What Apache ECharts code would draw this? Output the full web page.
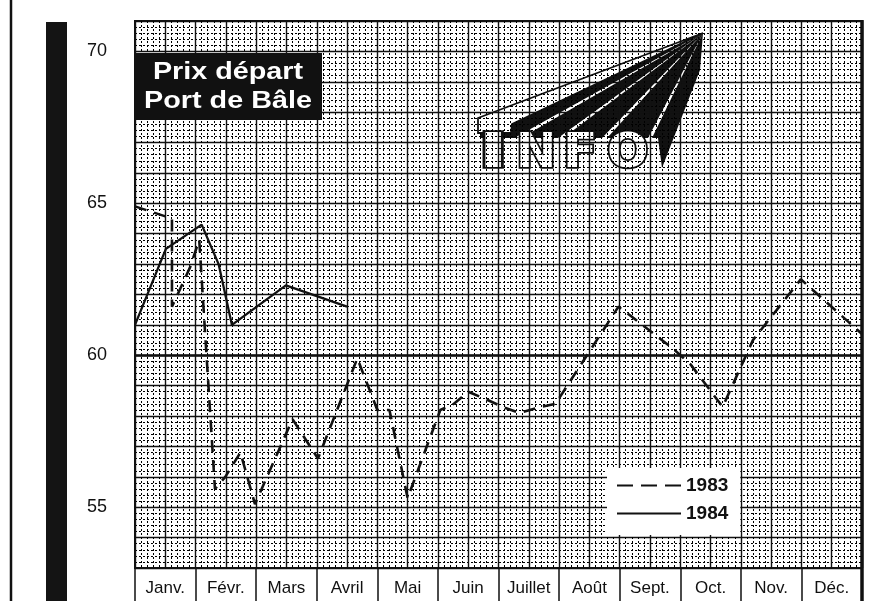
<!DOCTYPE html>
<html>
<head>
<meta charset="utf-8">
<script src="https://cdn.jsdelivr.net/npm/echarts@6/dist/echarts.min.js"></script>
<style>
  html, body { margin: 0; padding: 0; background: #fff; }
  #chart { width: 894px; height: 601px; }
</style>
</head>
<body>
<div id="chart"></div>
<script>
// mois (axe du bas)
const months = ['Janv.', 'Févr.', 'Mars', 'Avril', 'Mai', 'Juin', 'Juillet', 'Août', 'Sept.', 'Oct.', 'Nov.', 'Déc.'];
const yLabels = [55, 60, 65, 70];

// [position en mois depuis le 1er janvier, prix]
const prix1983 = [
  [0, 64.9], [0.61, 64.5], [0.61, 61.6], [0.91, 62.9], [1.06, 63.8],
  [1.32, 55.6], [1.49, 56.0], [1.74, 56.8], [1.98, 55.1], [2.60, 57.9],
  [3.02, 56.6], [3.67, 59.9], [4.00, 58.2], [4.20, 58.2], [4.50, 55.3],
  [5.04, 58.2], [5.26, 58.4], [5.50, 58.8], [5.74, 58.6], [6.07, 58.3],
  [6.35, 58.1], [6.69, 58.3], [6.94, 58.4], [7.98, 61.6], [8.18, 61.3],
  [8.89, 60.2], [9.17, 59.7], [9.70, 58.3], [10.20, 60.5], [10.99, 62.5],
  [12.00, 60.7]
];
const prix1984 = [
  [0, 61.0], [0.51, 63.5], [1.10, 64.3], [1.38, 63.0], [1.60, 61.0],
  [2.49, 62.3], [3.50, 61.6]
];

const chart = echarts.init(document.getElementById('chart'));
const ink = '#111';
const font = 'Liberation Sans';

// logo "INFO" approximatif : faisceau noir vers le point de fuite
const vp = [703, 33];
const logo = [
  { type: 'polygon', shape: { points: [[480, 124], vp, [700, 70], [662, 168], [658, 138], [480, 138]] }, style: { fill: ink } },
  { type: 'polygon', shape: { points: [[516, 137], vp, [521, 138]] }, style: { fill: '#fff' } },
  { type: 'polygon', shape: { points: [[558, 138], vp, [563, 138]] }, style: { fill: '#fff' } },
  { type: 'polygon', shape: { points: [[602, 138], vp, [607, 138]] }, style: { fill: '#fff' } },
  { type: 'polygon', shape: { points: [[648, 138], vp, [652, 138]] }, style: { fill: '#fff' } },
  { type: 'polygon', shape: { points: [[478, 118], vp, [512, 124], [511, 133], [478, 133]] }, style: { fill: '#fff', stroke: ink, lineWidth: 1.8 } }
];
['I', 'N', 'F', 'O'].forEach((ch, i) => {
  logo.push({
    type: 'text',
    x: [478, 516, 563, 607][i], y: 131,
    scaleX: [1.7, 1.0, 1.05, 1.02][i],
    style: { text: ch, fill: '#fff', stroke: ink, lineWidth: 3.5, fontSize: 48, fontWeight: 'bold', fontFamily: 'DejaVu Sans' }
  });
});

const option = {
  backgroundColor: '#fff',
  animation: false,
  grid: { left: 135, right: 32, top: 21, bottom: 33, show: true, borderColor: ink, borderWidth: 2, backgroundColor: '#fff' },
  legend: {
    data: [
      { name: '1983', lineStyle: { type: [16, 8] } },
      { name: '1984' }
    ],
    orient: 'vertical',
    left: 607, top: 468,
    backgroundColor: '#fff',
    padding: [8, 12, 12, 9],
    itemGap: 9,
    itemWidth: 64, itemHeight: 14,
    itemStyle: { opacity: 0 },
    textStyle: { color: ink, fontSize: 19, fontWeight: 'bold', fontFamily: font }
  },
  xAxis: [
    {
      type: 'category',
      data: months,
      boundaryGap: true,
      position: 'bottom',
      axisLine: { lineStyle: { color: ink, width: 2 } },
      axisTick: { show: true, length: 40, lineStyle: { color: ink, width: 1.5 } },
      axisLabel: { color: ink, fontSize: 17, fontFamily: font, margin: 12 },
      splitLine: { show: false }
    },
    {
      type: 'value',
      min: 0, max: 12, interval: 0.5,
      position: 'bottom',
      axisLine: { show: false },
      axisTick: { show: false },
      axisLabel: { show: false },
      splitLine: { show: true, lineStyle: { color: ink, width: 1.4 } },
      minorTick: { show: false, splitNumber: 5 },
      minorSplitLine: { show: true, lineStyle: { color: '#000', width: 1, type: [2, 2] } }
    }
  ],
  yAxis: {
    type: 'value',
    min: 53, max: 71, interval: 1,
    axisLine: { show: false },
    axisTick: { show: false },
    axisLabel: {
      color: ink, fontSize: 18, fontFamily: font, margin: 38, align: 'center',
      formatter: (v) => (yLabels.includes(v) ? String(v) : '')
    },
    splitLine: { show: true, lineStyle: { color: ink, width: 1.4 } },
    minorTick: { show: false, splitNumber: 5 },
    minorSplitLine: { show: true, lineStyle: { color: '#000', width: 1, type: [2, 2] } }
  },
  series: [
    {
      name: '1983',
      type: 'line',
      xAxisIndex: 1,
      data: prix1983,
      symbol: 'none',
      z: 5,
      lineStyle: { color: ink, width: 2.6, type: [12, 8] },
      itemStyle: { color: ink },
      markLine: {
        silent: true, symbol: 'none', label: { show: false },
        lineStyle: { color: ink, width: 2.6, type: 'solid' },
        data: [{ yAxis: 60 }]
      }
    },
    {
      name: '1984',
      type: 'line',
      xAxisIndex: 1,
      data: prix1984,
      symbol: 'none',
      z: 6,
      lineStyle: { color: ink, width: 2.3, type: 'solid' },
      itemStyle: { color: ink }
    }
  ],
  graphic: [
    // barre noire et filet à gauche
    { type: 'rect', shape: { x: 46, y: 22, width: 21, height: 590 }, style: { fill: '#141414' } },
    { type: 'line', shape: { x1: 11, y1: 0, x2: 11, y2: 601 }, style: { stroke: ink, lineWidth: 2.5 } },
    // bord droit plus épais
    { type: 'line', shape: { x1: 862, y1: 20, x2: 862, y2: 601 }, style: { stroke: ink, lineWidth: 3.5 } },
    // cartouche titre
    { type: 'rect', shape: { x: 135, y: 53, width: 187, height: 67 }, style: { fill: ink }, z: 10 },
    {
      type: 'text', x: 228, y: 87, scaleX: 1.25, z: 11,
      style: {
        text: 'Prix départ\nPort de Bâle', fill: '#fff', align: 'center', verticalAlign: 'middle',
        fontSize: 23, fontWeight: 'bold', fontFamily: font, lineHeight: 29
      }
    },
    { type: 'group', z: 10, children: logo }
  ]
};

chart.setOption(option);
</script>
</body>
</html>
